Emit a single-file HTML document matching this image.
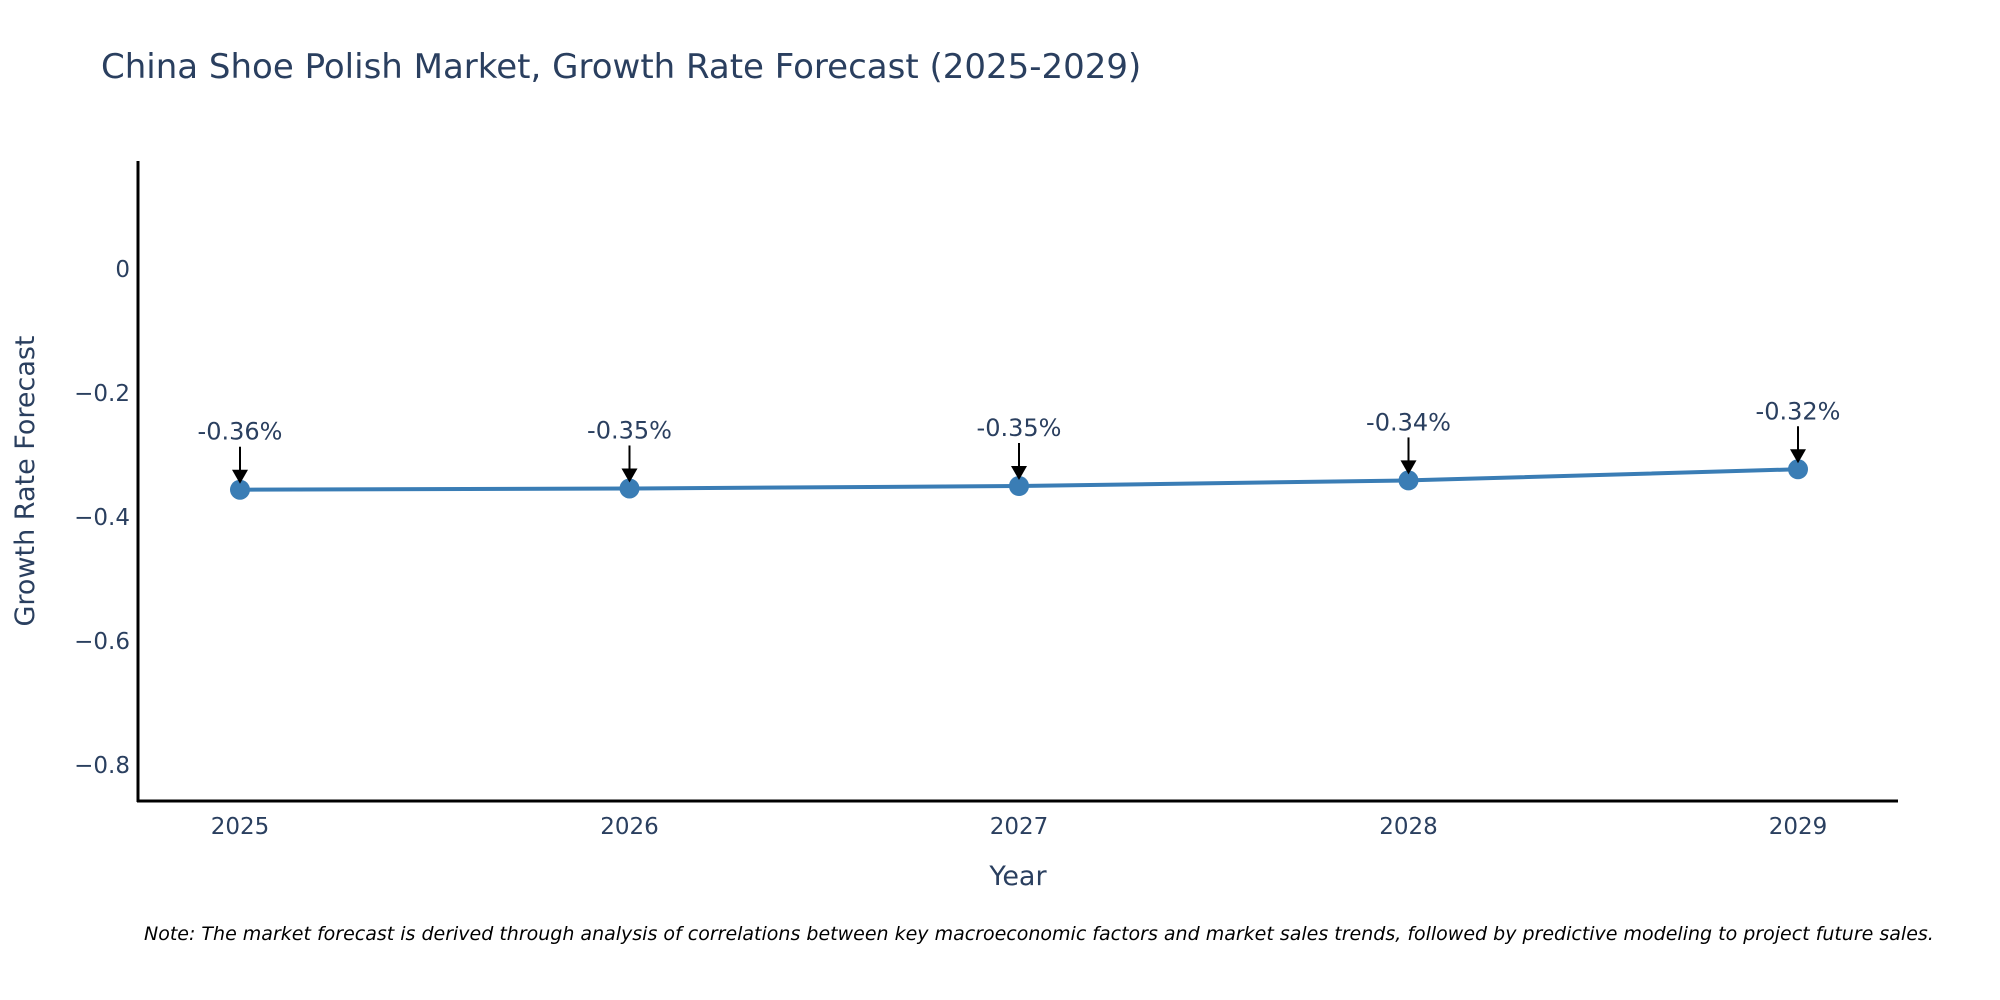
<!DOCTYPE html>
<html><head><meta charset="utf-8"><style>
body{margin:0;background:#fff;}
svg{display:block;font-family:"DejaVu Sans","Liberation Sans",sans-serif;}
</style></head><body>
<svg id="chart" width="2000" height="1000">
<text x="101" y="78" font-size="34" fill="#2a3f5f">China Shoe Polish Market, Growth Rate Forecast (2025-2029)</text>
<g id="yticks"></g>
<g id="xticks"></g>
<line x1="138" y1="161" x2="138" y2="802" stroke="#000" stroke-width="3"/>
<line x1="137" y1="801" x2="1898" y2="801" stroke="#000" stroke-width="3"/>
<text transform="translate(34,481) rotate(-90)" text-anchor="middle" font-size="27" fill="#2a3f5f">Growth Rate Forecast</text>
<text x="1018" y="885" text-anchor="middle" font-size="27" fill="#2a3f5f">Year</text>
<g id="series"></g>
<text x="144" y="940" font-size="19" font-style="italic" fill="#000">Note: The market forecast is derived through analysis of correlations between key macroeconomic factors and market sales trends, followed by predictive modeling to project future sales.</text>
</svg>
<script>
const years=[2025,2026,2027,2028,2029];
const growth=[-0.356,-0.354,-0.350,-0.341,-0.323];
const labels=["-0.36%","-0.35%","-0.35%","-0.34%","-0.32%"];
const yTicks=[0,-0.2,-0.4,-0.6,-0.8];
const yTickLabels=["0","\u22120.2","\u22120.4","\u22120.6","\u22120.8"];
const NS="http://www.w3.org/2000/svg";
function X(v){return 240+(v-2025)*389.5;}
function Y(v){return 269-v/0.2*124;}
function mk(t,a,p){const e=document.createElementNS(NS,t);for(const k in a)e.setAttribute(k,a[k]);p.appendChild(e);return e;}
const yt=document.getElementById('yticks');
yTicks.forEach((v,i)=>{const t=mk('text',{x:130,y:Y(v)+8,'text-anchor':'end','font-size':23,fill:'#2a3f5f'},yt);


t.textContent=yTickLabels[i];});
const xt=document.getElementById('xticks');
years.forEach(v=>{const t=mk('text',{x:X(v),y:834,'text-anchor':'middle','font-size':23,fill:'#2a3f5f'},xt);


t.textContent=v;});
const s=document.getElementById('series');
const ln=mk('polyline',{points:years.map((y,i)=>X(y)+','+Y(growth[i])).join(' '),fill:'none',stroke:'#3a7db5','stroke-width':4},s);


years.forEach((y,i)=>{const cx=X(y),cy=Y(growth[i]);
const c=mk('circle',{cx:cx,cy:cy,r:10,fill:'#3a7db5'},s);


const a=mk('line',{x1:cx,y1:cy-43,x2:cx,y2:cy-16,stroke:'#000','stroke-width':2},s);


const h=mk('polygon',{points:`${cx-8},${cy-20} ${cx+8},${cy-20} ${cx},${cy-6}`,fill:'#000'},s);


const t=mk('text',{x:cx,y:cy-50,'text-anchor':'middle','font-size':24,fill:'#2a3f5f'},s);


t.textContent=labels[i];});
</script>
</body></html>
